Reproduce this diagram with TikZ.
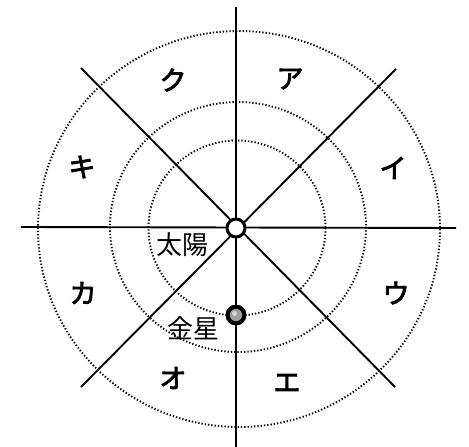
\documentclass[tikz,border=0pt]{standalone}
\usepackage{fontspec}
\newfontfamily\cjk{Noto Sans CJK JP}
\newfontfamily\cjkb[FakeBold=3]{Noto Sans CJK JP}
\begin{document}
\begin{tikzpicture}[x=1pt,y=-1pt,
  axis/.style={line width=1.9pt},
  orbit/.style={line width=1.9pt, dash pattern=on 1.3pt off 2.0pt},
  kana/.style={font=\cjkb\fontsize{27}{27}\selectfont, inner sep=0pt},
  namelbl/.style={font=\cjk\fontsize{26}{26}\selectfont, inner sep=0pt}]
\useasboundingbox (0,0) rectangle (469,447);
\coordinate (c) at (237,228);
% orbits
\draw[orbit] (c) ellipse [x radius=88.5, y radius=87.5];
\draw[orbit] (238,227) ellipse [x radius=128, y radius=125];
\draw[orbit] (239,229) ellipse [x radius=201, y radius=198];
% axes
\coordinate (n) at (236,7);
\coordinate (s) at (236,447);
\coordinate (w) at (21,227);
\coordinate (e) at (456,228);
\coordinate (nw) at (81,68);
\coordinate (se) at (395,387);
\coordinate (ne) at (396,69);
\coordinate (sw) at (81,387);
\draw[axis] (n) -- (s);
\draw[axis] (w) -- (e);
\draw[axis] (nw) -- (se);
\draw[axis] (ne) -- (sw);
% sun
\node[circle, draw, line width=3pt, fill=white, minimum size=18pt, inner sep=0pt] (sun) at (236,228) {};
% venus
\node[circle, fill=black, minimum size=21pt, inner sep=0pt] (venus) at (236,315) {};
\fill[gray!75] (venus) circle [radius=6.2];
\fill[gray!30] (venus) ++(-1.5,-1.5) circle [radius=2.5];
% labels
\node[kana] (a) at (290,79) {ア};
\node[kana] (i) at (393,168) {イ};
\node[kana] (u) at (396,293) {ウ};
\node[kana] (ee) at (287,383) {エ};
\node[kana] (o) at (173,378) {オ};
\node[kana] (ka) at (83,293) {カ};
\node[kana] (ki) at (82,167) {キ};
\node[kana] (ku) at (173,80) {ク};
\node[namelbl] (taiyo) at (182,245) {太陽};
\node[namelbl] (kinsei) at (193,328) {金星};
\end{tikzpicture}
\end{document}
